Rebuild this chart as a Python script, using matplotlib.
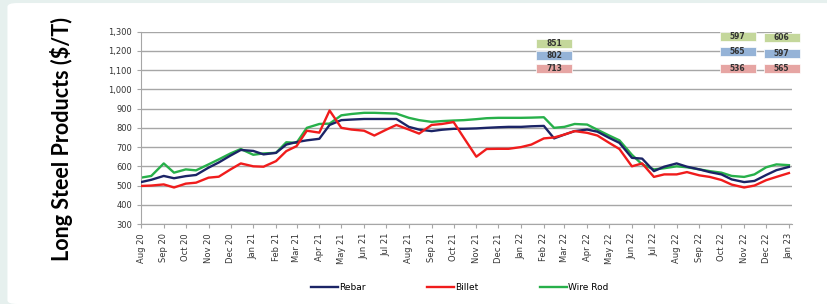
import pandas as pd
import matplotlib.pyplot as plt
import matplotlib.dates as mdates
from matplotlib.patches import FancyBboxPatch, Rectangle

# half-monthly readings, Aug 2020 - Jan 2023 ($/T)
dates = pd.date_range("2020-08-01", "2023-01-01", freq="SMS")

rebar = [518, 530, 550, 538, 549, 555, 593, 620, 656, 685,
         680, 662, 670, 713, 726, 735, 743, 815, 840, 843,
         846, 846, 846, 846, 805, 791, 783, 790, 795, 795,
         797, 800, 803, 805, 805, 808, 810, 745, 765, 783,
         791, 780, 748, 722, 644, 640, 575, 598, 615, 598,
         584, 570, 558, 532, 518, 524, 555, 580, 597]

billet = [498, 500, 506, 490, 510, 515, 541, 546, 584, 615,
          600, 598, 627, 679, 705, 785, 775, 890, 800, 791,
          785, 760, 790, 815, 791, 770, 815, 820, 830, 748,
          650, 690, 691, 691, 700, 713, 745, 750, 765, 783,
          774, 760, 722, 690, 600, 615, 545, 558, 558, 570,
          553, 545, 529, 505, 490, 500, 528, 545, 565]

wire_rod = [541, 550, 615, 567, 584, 579, 610, 636, 667, 690,
            660, 667, 670, 725, 722, 800, 820, 822, 865, 872,
            878, 878, 876, 874, 852, 840, 831, 835, 838, 840,
            845, 850, 852, 852, 852, 853, 855, 800, 805, 820,
            817, 790, 760, 735, 660, 610, 584, 590, 600, 595,
            584, 575, 567, 550, 545, 558, 595, 610, 606]

# value boxes (wire rod / rebar / billet)
box_groups = [["851", "802", "713"], ["597", "565", "536"], ["606", "597", "565"]]
box_colors = ["#c4d79b", "#95b3d7", "#e6a5a3"]

fig = plt.figure(figsize=(8.27, 3.04), dpi=100)
fig.patch.set_facecolor("#e6f0ee")
card = FancyBboxPatch((0.009, 0.0), 1.0, 0.99, boxstyle="round,pad=0,rounding_size=0.012",
                      transform=fig.transFigure, facecolor="white", edgecolor="none", zorder=-10)
fig.patches.append(card)

ax = fig.add_axes([0.1705, 0.263, 0.787, 0.633])
ax.set_facecolor("none")

ax.plot(dates, rebar, color="#1b2466", lw=1.7, label="Rebar", zorder=3)
ax.plot(dates, billet, color="#f01c1c", lw=1.7, label="Billet", zorder=4)
ax.plot(dates, wire_rod, color="#27b04a", lw=1.7, label="Wire Rod", zorder=2)

ax.set_ylim(300, 1300)
ax.set_yticks(range(300, 1301, 100))
ax.yaxis.set_major_formatter(plt.FuncFormatter(lambda v, p: f"{int(v):,}"))
ax.set_xlim(pd.Timestamp("2020-08-01"), pd.Timestamp("2023-01-05"))
ax.xaxis.set_major_locator(mdates.MonthLocator())
ax.xaxis.set_major_formatter(mdates.DateFormatter("%b %y"))
plt.setp(ax.get_xticklabels(), rotation=90)

ax.grid(axis="y", color="#a6a6a6", lw=1.0)
ax.set_axisbelow(True)
for s in ["top", "right"]:
    ax.spines[s].set_visible(False)
ax.spines["left"].set_color("#a6a6a6")
ax.spines["bottom"].set_color("#a6a6a6")
ax.tick_params(axis="both", labelsize=6, colors="#a6a6a6", labelcolor="#333333", length=3, width=0.8)

fig.text(0.074, 0.543, "Long Steel Products ($/T)", fontsize=15.5, fontweight="bold", family="Lato",
         rotation=90, ha="center", va="center")

# label boxes (figure fractions)
bw, bh = 0.0435, 0.0296
group_x = [0.670, 0.892, 0.945]
group_y = [[0.857, 0.817, 0.775], [0.880, 0.829, 0.776], [0.877, 0.824, 0.775]]
for gx, gy, labels in zip(group_x, group_y, box_groups):
    for y, txt, c in zip(gy, labels, box_colors):
        fig.patches.append(Rectangle((gx - bw / 2, y - bh / 2), bw, bh, transform=fig.transFigure,
                                     facecolor=c, edgecolor="white", lw=0.5, zorder=5))
        fig.text(gx, y, txt, fontsize=5.5, fontweight="bold", color="#333333", ha="center", va="center",
                 zorder=6)

fig.legend(loc="center", bbox_to_anchor=(0.556, 0.055), ncol=3, frameon=False, fontsize=6.5,
           handlelength=3.0, handletextpad=0.1, columnspacing=6.8)

fig.savefig("out.png", dpi=100)
